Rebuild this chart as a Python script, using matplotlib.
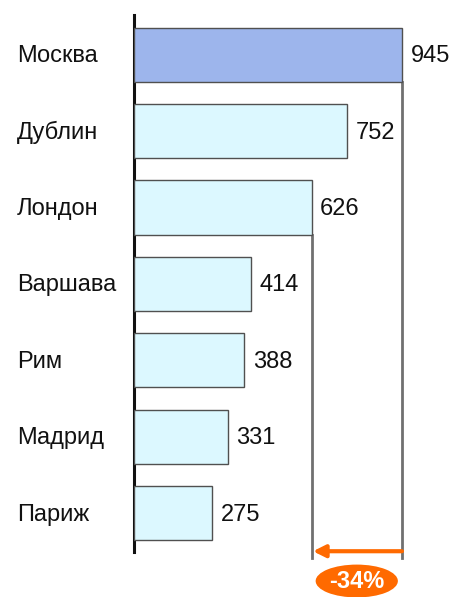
import matplotlib.pyplot as plt
import matplotlib.transforms as mtransforms
from matplotlib.patches import Ellipse

plt.rcParams['font.family'] = ['Liberation Sans', 'DejaVu Sans']

cities = ['Москва', 'Дублин', 'Лондон', 'Варшава', 'Рим', 'Мадрид', 'Париж']
values = [945, 752, 626, 414, 388, 331, 275]
diff_label = '-34%'

fig = plt.figure(figsize=(4.53, 5.97), dpi=100)
ax = fig.add_axes([0.296, 0.0754, 0.704, 0.8995])

ypos = list(range(len(cities)))
colors = ['#9db5ec'] + ['#dcf8ff'] * (len(cities) - 1)
ax.barh(ypos, values, height=0.71, color=colors, edgecolor='#505050', linewidth=1.0, zorder=3)

ax.set_xlim(0, 1125)
ax.set_ylim(6.51, -0.52)
for s in ['top', 'right', 'bottom']:
    ax.spines[s].set_visible(False)
ax.spines['left'].set_linewidth(2.2)
ax.spines['left'].set_color('#111111')
ax.set_xticks([])
ax.set_yticks([])

# value labels
for y, v in zip(ypos, values):
    ax.text(v + 30, y + 0.02, str(v), va='center', ha='left', fontsize=17, color='#111111')

# city labels, left aligned
trans = mtransforms.blended_transform_factory(fig.transFigure, ax.transData)
for y, c in zip(ypos, cities):
    ax.text(0.0375, y + 0.02, c, transform=trans, va='center', ha='left', fontsize=17, color='#111111')

# reference lines from Moscow and London bars
y_bottom = 6.59
ax.plot([values[0], values[0]], [0.355, y_bottom], color='#707070', lw=2, clip_on=False, zorder=2)
ax.plot([values[2], values[2]], [2.355, y_bottom], color='#707070', lw=2, clip_on=False, zorder=2)

# arrow
ax.annotate('', xy=(values[2] + 5, 6.5), xytext=(values[0], 6.5),
            arrowprops=dict(arrowstyle='-|>', color='#ff6a00', lw=3, mutation_scale=18,
                            shrinkA=0, shrinkB=0),
            annotation_clip=False)

# label in orange ellipse
xm = (values[0] + values[2]) / 2
ell = Ellipse((xm, 6.89), 290, 0.43, facecolor='#ff6a00', edgecolor='none', clip_on=False, zorder=4)
ax.add_patch(ell)
ax.text(xm, 6.9, diff_label, ha='center', va='center', fontsize=17, fontweight='bold',
        color='white', zorder=5, clip_on=False)

fig.savefig('out.png', dpi=100)
